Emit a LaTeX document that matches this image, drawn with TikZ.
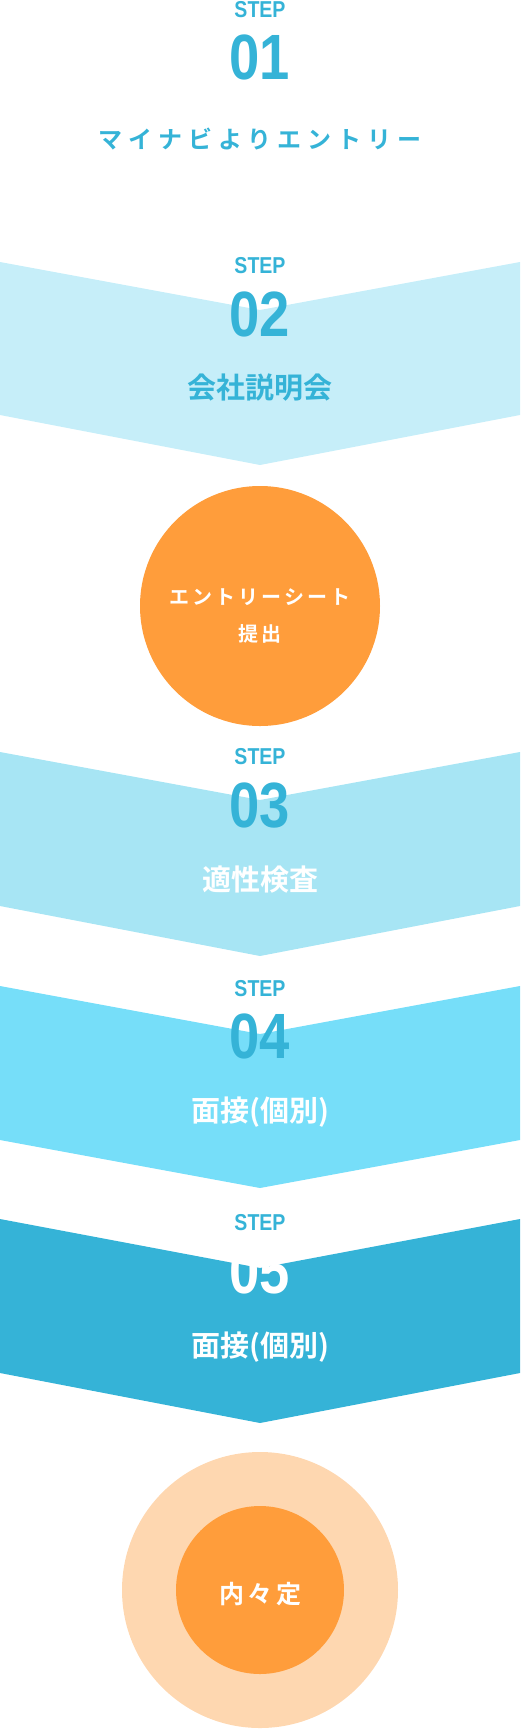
\documentclass[tikz,border=0pt]{standalone}
\usepackage{fontspec}
\usepackage{xcolor}
\usepackage{tikz}
\usetikzlibrary{calc}
\newfontfamily\jpfont{Noto Sans CJK JP Bold}
\newfontfamily\numfont{Liberation Sans Bold}[FakeStretch=0.85]
\definecolor{stepblue}{HTML}{35B3D7}
\definecolor{chevA}{HTML}{C6EEF9}
\definecolor{chevB}{HTML}{A7E5F4}
\definecolor{chevC}{HTML}{76DEF9}
\definecolor{chevD}{HTML}{35B3D7}
\definecolor{entryorange}{HTML}{FF9D3B}
\definecolor{paleorange}{HTML}{FED7B0}

\begin{document}
\begin{tikzpicture}[x=1pt, y=-1pt,
	steplabel/.style={anchor=base, inner sep=0pt, text=stepblue, font=\numfont\fontsize{23}{23}\selectfont},
	stepnum/.style={anchor=base, inner sep=0pt, text=stepblue, font=\numfont\fontsize{64}{64}\selectfont},
	title/.style={inner sep=0pt, font=\jpfont\fontsize{29}{29}\selectfont},
	circletext/.style={inner sep=0pt, text=white, align=center}]
	\useasboundingbox (0,0) rectangle (520,1729);
	\coordinate (c2) at (0, 262);
	\coordinate (c3) at (0, 752);
	\coordinate (c4) at (0, 986);
	\coordinate (c5) at (0, 1219);
	\fill[chevA] (c2) -- ($(c2)+(260,48)$) -- ($(c2)+(520,0)$) -- ($(c2)+(520,153)$) -- ($(c2)+(260,203)$) -- ($(c2)+(0,153)$) -- cycle;
	\fill[chevB] (c3) -- ($(c3)+(260,48)$) -- ($(c3)+(520,0)$) -- ($(c3)+(520,154)$) -- ($(c3)+(260,204)$) -- ($(c3)+(0,154)$) -- cycle;
	\fill[chevC] (c4) -- ($(c4)+(260,48)$) -- ($(c4)+(520,0)$) -- ($(c4)+(520,154)$) -- ($(c4)+(260,202)$) -- ($(c4)+(0,154)$) -- cycle;
	\fill[chevD] (c5) -- ($(c5)+(260,49)$) -- ($(c5)+(520,0)$) -- ($(c5)+(520,154)$) -- ($(c5)+(260,204)$) -- ($(c5)+(0,154)$) -- cycle;
	\fill[entryorange] (260, 606) circle (120);
	\fill[paleorange] (260, 1590) circle (138);
	\fill[entryorange] (260, 1590) circle (84);
	\node[steplabel] (step1) at (260, 17) {STEP};
	\node[stepnum] (num1) at (260, 79) {01};
	\node[title, text=stepblue, font=\jpfont\fontsize{24}{24}\selectfont\addfontfeature{LetterSpace=25}] (title1) at (260, 139) {マイナビよりエントリー};
	\node[steplabel] (step2) at (260, 273) {STEP};
	\node[stepnum] (num2) at (260, 336) {02};
	\node[title, text=stepblue] (title2) at (260, 388) {会社説明会};
	\node[circletext, font=\jpfont\fontsize{20}{37.5}\selectfont\addfontfeature{LetterSpace=15}] (sheet) at (260, 616) {エントリーシート\\提出};
	\node[steplabel] (step3) at (260, 764) {STEP};
	\node[stepnum] (num3) at (260, 827) {03};
	\node[title, text=white] (title3) at (260, 880) {適性検査};
	\node[steplabel] (step4) at (260, 996) {STEP};
	\node[stepnum] (num4) at (260, 1058) {04};
	\node[title, text=white] (title4) at (260, 1112) {面接(個別)};
	\node[steplabel] (step5) at (260, 1230) {STEP};
	\node[stepnum, text=white] (num5) at (260, 1293) {05};
	\node[title, text=white] (title5) at (260, 1347) {面接(個別)};
	\node[circletext, font=\jpfont\fontsize{25}{25}\selectfont\addfontfeature{LetterSpace=14}] (offer) at (260, 1594) {内々定};
\end{tikzpicture}
\end{document}
